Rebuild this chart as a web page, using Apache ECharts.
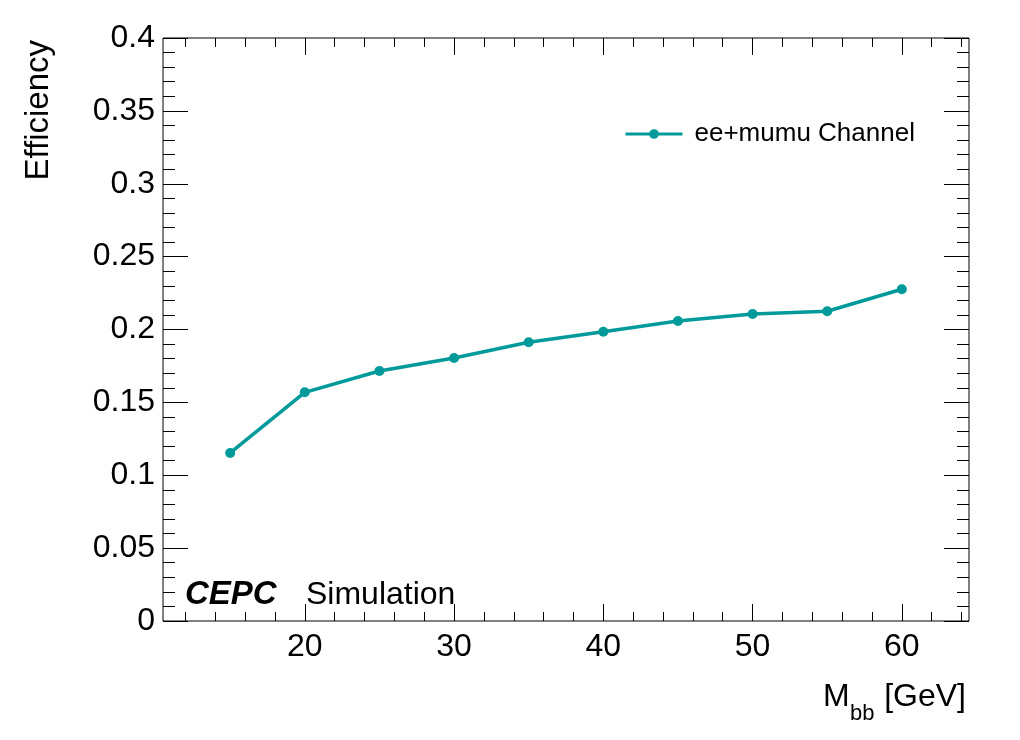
<!DOCTYPE html>
<html>
<head>
<meta charset="utf-8">
<script src="https://cdn.jsdelivr.net/npm/echarts@6/dist/echarts.min.js"></script>
<style>html,body{margin:0;padding:0;background:#fff}#c{width:1020px;height:740px}</style>
</head>
<body>
<div id="c"></div>
<script>
const massPoints = [15, 20, 25, 30, 35, 40, 45, 50, 55, 60];
const efficiency = [0.1153, 0.1569, 0.1715, 0.1804, 0.1912, 0.1985, 0.2058, 0.2106, 0.2125, 0.2276];
const xMajorTicks = [20, 30, 40, 50, 60];
const xMinorTicks = [12, 14, 16, 18, 22, 24, 26, 28, 32, 34, 36, 38, 42, 44, 46, 48, 52, 54, 56, 58, 62, 64];
const seriesName = 'ee+mumu Channel';

const FONT = 'Liberation Sans';
const TEAL = '#009a9a';
const X_MIN = 10.5, X_MAX = 64.5;

const chart = echarts.init(document.getElementById('c'), null, {renderer: 'canvas'});

function xAx(pos, ticks, len, labels) {
  return {
    type: 'value', position: pos, min: X_MIN, max: X_MAX,
    axisLine: {show: false},
    splitLine: {show: false},
    axisTick: {show: true, inside: true, length: len, customValues: ticks, lineStyle: {color: '#000', width: 1}},
    axisLabel: labels ? {show: true, customValues: ticks, fontFamily: FONT, fontSize: 32, color: '#000', margin: 10} : {show: false}
  };
}
function yAx(pos, labels) {
  return {
    type: 'value', position: pos, min: 0, max: 0.4, interval: 0.05,
    axisLine: {show: false},
    splitLine: {show: false},
    axisTick: {show: true, inside: true, length: 25, lineStyle: {color: '#000', width: 1}},
    minorTick: {show: true, splitNumber: 5, length: 12, lineStyle: {color: '#000', width: 1}},
    axisLabel: labels ? {show: true, fontFamily: FONT, fontSize: 32, color: '#000', margin: 8} : {show: false}
  };
}

chart.setOption({
  animation: false,
  backgroundColor: '#fff',
  grid: {left: 163, top: 38, width: 806, height: 583, show: true, borderColor: '#000', borderWidth: 1, containLabel: false},
  xAxis: [
    xAx('bottom', xMajorTicks, 17, true),
    xAx('bottom', xMinorTicks, 9, false),
    xAx('top', xMajorTicks, 17, false),
    xAx('top', xMinorTicks, 9, false)
  ],
  yAxis: [yAx('left', true), yAx('right', false)],
  legend: {
    data: [seriesName], left: 624, top: 121, padding: 0, itemWidth: 57, itemHeight: 12,
    lineStyle: {width: 3},
    textStyle: {fontFamily: FONT, fontSize: 26, color: '#000', padding: [0, 0, 0, 7]}
  },
  graphic: [
    {type: 'text', x: 22, y: 40, rotation: Math.PI / 2,
     style: {text: 'Efficiency', align: 'right', verticalAlign: 'top', font: '33px "Liberation Sans"', fill: '#000'}},
    {type: 'text', x: 823, y: 681,
     style: {text: 'M', align: 'left', verticalAlign: 'top', font: '32px "Liberation Sans"', fill: '#000'}},
    {type: 'text', x: 850, y: 703,
     style: {text: 'bb', align: 'left', verticalAlign: 'top', font: '22px "Liberation Sans"', fill: '#000'}},
    {type: 'text', x: 966, y: 681,
     style: {text: '[GeV]', align: 'right', verticalAlign: 'top', font: '32px "Liberation Sans"', fill: '#000'}},
    {type: 'text', x: 185, y: 578,
     style: {text: 'CEPC', align: 'left', verticalAlign: 'top', font: 'italic bold 33px "Liberation Sans"', fill: '#000'}},
    {type: 'text', x: 306, y: 579,
     style: {text: 'Simulation', align: 'left', verticalAlign: 'top', font: '32px "Liberation Sans"', fill: '#000'}}
  ],
  series: [{
    name: seriesName, type: 'line', xAxisIndex: 0, yAxisIndex: 0,
    data: massPoints.map((m, i) => [m, efficiency[i]]),
    symbol: 'circle', symbolSize: 10,
    lineStyle: {color: TEAL, width: 3.5},
    itemStyle: {color: TEAL}
  }]
});
</script>
</body>
</html>
